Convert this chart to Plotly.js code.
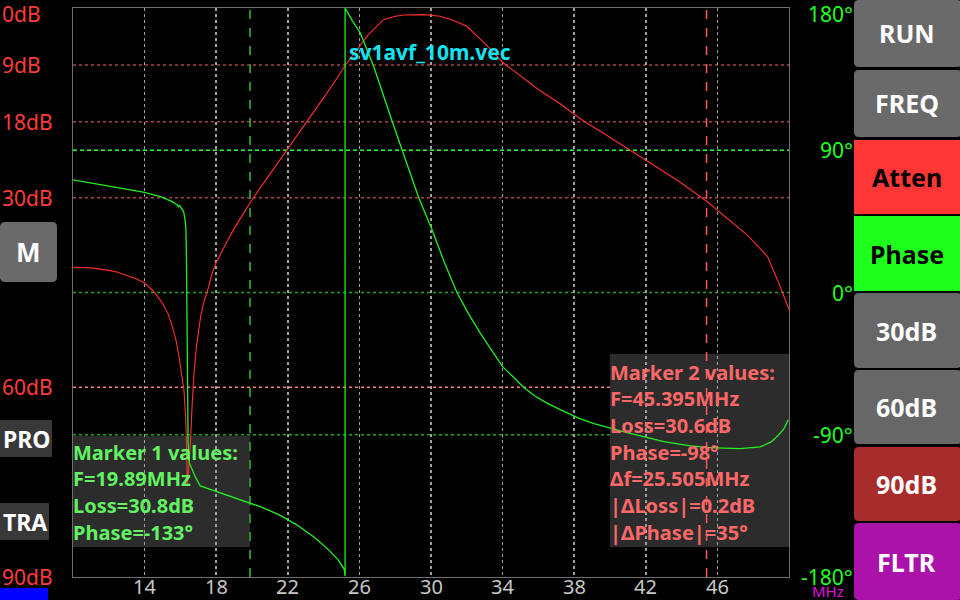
<!DOCTYPE html>
<html>
<head>
<meta charset="utf-8">
<script src="https://cdn.plot.ly/plotly-3.0.1.min.js"></script>
<style>html,body{margin:0;padding:0;background:#000;}#chart{width:960px;height:600px;}</style>
</head>
<body>
<div id="chart"></div>
<script>
// ---- data ----
const freqAtten = [10.0, 11.0, 12.0, 12.5, 13.0, 13.5, 14.0, 14.5, 15.0, 15.3, 15.55, 15.75, 15.92, 16.05, 16.2, 16.3, 16.36, 16.39, 16.45, 16.57, 16.66, 16.76, 16.9, 17.13, 17.3, 17.49, 17.78, 17.99, 18.5, 19.0, 19.5, 19.89, 20.5, 21.0, 21.96, 23.25, 24.3, 25.3, 26.0, 26.5, 27.35, 28.0, 28.5, 29.6, 30.5, 31.2, 32.0, 33.0, 34.05, 35.0, 36.0, 37.2, 38.53, 39.46, 40.95, 42.0, 43.74, 45.42, 46.54, 47.7, 48.8, 49.5, 50.0];
const attenDb = [41.0, 41.1, 41.5, 41.8, 42.3, 42.8, 43.5, 44.8, 46.7, 48.3, 50.4, 52.5, 55.1, 57.3, 60.5, 65.0, 70.0, 75.7, 73.0, 68.3, 62.5, 57.8, 53.5, 48.8, 46.6, 45.0, 41.9, 40.3, 37.5, 34.9, 32.6, 30.8, 28.3, 26.3, 22.4, 17.4, 13.0, 8.7, 6.0, 4.2, 1.85, 1.3, 1.1, 1.05, 1.3, 1.9, 2.9, 5.6, 8.7, 10.8, 12.9, 15.1, 17.9, 19.5, 22.2, 24.0, 27.2, 30.6, 33.2, 36.0, 39.3, 44.0, 47.7];

const freqPhase = [10.0, 11.0, 12.0, 13.0, 14.0, 14.88, 15.25, 15.55, 15.81, 15.9, 15.95, 16.1, 16.18, 16.26, 16.31, 16.34, 16.37, 16.4, 16.43, 16.5, 16.65, 16.85, 17.11, 18.04, 19.0, 19.89, 20.46, 21.5, 22.5, 23.5, 24.3, 24.8, 25.15, 25.2, 25.2, 25.6, 26.05, 26.8, 27.45, 27.8, 28.38, 29.31, 30.06, 30.75, 31.45, 32.1, 32.75, 33.4, 34.0, 34.6, 35.17, 35.8, 36.48, 37.25, 38.24, 39.1, 40.03, 41.0, 42.0, 43.0, 44.5, 45.395, 46.35, 47.3, 48.4, 49.0, 49.33, 49.7, 49.96];
const phaseDeg = [71.3, 69.3, 67.3, 65.3, 63.3, 60.7, 59.2, 57.5, 55.5, 54.3, 55.0, 52.5, 51.2, 46.0, 39.7, 20.0, -20.0, -60.0, -95.0, -108.0, -112.3, -117.0, -122.4, -126.0, -129.5, -133.0, -135.5, -140.5, -147.0, -155.0, -163.0, -169.0, -175.0, -179.5, 180.0, 172.0, 164.2, 143.0, 122.0, 109.3, 90.3, 60.1, 39.7, 19.0, 0.0, -13.5, -25.7, -37.0, -46.9, -53.5, -59.9, -65.5, -70.0, -74.3, -79.5, -83.0, -85.9, -88.8, -91.5, -94.3, -97.0, -98.0, -98.5, -98.8, -97.7, -94.5, -91.2, -86.5, -80.6];

const xTicks = [14, 18, 22, 26, 30, 34, 38, 42, 46];
const dbTicks = [0, 9, 18, 30, 60, 90];
const dbLabels = ['0dB', '9dB', '18dB', '30dB', '60dB', '90dB'];
const dbGrid = [9, 18, 30, 60];
const degTicks = [180, 90, 0, -90, -180];
const degLabels = ['180°', '90°', '0°', '-90°', '-180°'];
const phaseGrid = [90, 0, -90];
const markerFreqs = [19.89, 45.395];
const marker1Lines = ['Marker 1 values:', 'F=19.89MHz', 'Loss=30.8dB', 'Phase=-133°'];
const marker2Lines = ['Marker 2 values:', 'F=45.395MHz', 'Loss=30.6dB', 'Phase=-98°', 'Δf=25.505MHz', '|ΔLoss|=0.2dB', '|ΔPhase|=35°'];
const fileName = 'sv1avf_10m.vec';
const rightButtons = ['RUN', 'FREQ', 'Atten', 'Phase', '30dB', '60dB', '90dB', 'FLTR'];
const leftLabels = ['M', 'PRO', 'TRA'];

// ---- layout helpers (pixel -> paper) ----
const W = 960, H = 600;
const L = 73, R = 171, T = 8, B = 23;
const PW = W - L - R, PH = H - T - B;
const px = v => (v - L) / PW;
const py = v => (H - B - v) / PH;
const FONT = 'Noto Sans, DejaVu Sans, sans-serif';

function rectShape(x0, y0, x1, y1, fill, layer) {
  return {type: 'rect', xref: 'paper', yref: 'paper', x0: px(x0), x1: px(x1), y0: py(y1), y1: py(y0),
          fillcolor: fill, line: {width: 0}, layer: layer || 'above'};
}
function roundRect(x0, y0, x1, y1, r, fill) {
  const p = [
    ['M', x0 + r, y0], ['L', x1 - r, y0], ['Q', x1, y0, x1, y0 + r], ['L', x1, y1 - r], ['Q', x1, y1, x1 - r, y1],
    ['L', x0 + r, y1], ['Q', x0, y1, x0, y1 - r], ['L', x0, y0 + r], ['Q', x0, y0, x0 + r, y0]
  ];
  let s = '';
  p.forEach(seg => {
    s += seg[0] + ' ';
    for (let i = 1; i < seg.length; i += 2) s += px(seg[i]).toFixed(5) + ',' + py(seg[i + 1]).toFixed(5) + ' ';
  });
  return {type: 'path', xref: 'paper', yref: 'paper', path: s + 'Z', fillcolor: fill, line: {width: 0}, layer: 'above'};
}

const shapes = [];
const annotations = [];

// horizontal grid lines
dbGrid.forEach(v => shapes.push({type: 'line', xref: 'paper', yref: 'y', x0: 0, x1: 1, y0: v, y1: v,
  line: {color: v === 60 ? '#ff7a7a' : '#a84444', width: 1.5, dash: 'dot'}, layer: 'below'}));
phaseGrid.forEach(v => shapes.push({type: 'line', xref: 'paper', yref: 'y2', x0: 0, x1: 1, y0: v, y1: v,
  line: {color: v === 90 ? '#33ff33' : '#23a523', width: 1.5, dash: v === 90 ? '4px,3px' : 'dot'}, layer: 'below'}));

// marker boxes
shapes.push(rectShape(73, 436, 250, 547, '#2c2c2c', 'below'));
shapes.push(rectShape(610, 354, 789, 547, '#2c2c2c', 'below'));

// marker vertical lines
shapes.push({type: 'line', xref: 'x', yref: 'paper', x0: markerFreqs[0], x1: markerFreqs[0], y0: 0, y1: 1,
  line: {color: '#2f8f2f', width: 2, dash: 'dash'}, layer: 'below'});
shapes.push({type: 'line', xref: 'x', yref: 'paper', x0: markerFreqs[1], x1: markerFreqs[1], y0: 0, y1: 1,
  line: {color: '#ff5a5a', width: 1.5, dash: 'dash'}, layer: 'below'});

// x tick labels
xTicks.forEach(v => annotations.push({xref: 'x', yref: 'paper', x: v, y: py(586), text: String(v),
  xanchor: 'center', yanchor: 'middle', showarrow: false, font: {family: FONT, size: 20, color: '#c8c8c8'}}));

// left dB labels (top one anchored to the top edge so it stays inside the picture)
dbTicks.forEach((v, i) => annotations.push({xref: 'paper', yref: i === 0 ? 'paper' : 'y', x: px(0),
  y: i === 0 ? py(-2) : v, text: dbLabels[i],
  xanchor: 'left', yanchor: i === 0 ? 'top' : 'middle', showarrow: false, font: {family: FONT, size: 21, color: '#ff3b3b'}}));
// right degree labels
degTicks.forEach((v, i) => annotations.push({xref: 'paper', yref: i === 0 ? 'paper' : 'y2', x: px(855),
  y: i === 0 ? py(-2) : v, text: degLabels[i],
  xanchor: 'right', yanchor: i === 0 ? 'top' : 'middle', showarrow: false, font: {family: FONT, size: 21, color: '#22ff22'}}));

// marker texts (one line each, 26.7px spacing as in the reference)
marker1Lines.forEach((t, i) => annotations.push({xref: 'paper', yref: 'paper', x: px(71), y: py(452 + i * 26.7),
  text: '<b>' + t + '</b>', xanchor: 'left', yanchor: 'middle', align: 'left', showarrow: false,
  font: {family: FONT, size: 20, color: '#62f262'}}));
marker2Lines.forEach((t, i) => annotations.push({xref: 'paper', yref: 'paper', x: px(608), y: py(372 + i * 26.7),
  text: '<b>' + t + '</b>', xanchor: 'left', yanchor: 'middle', align: 'left', showarrow: false,
  font: {family: FONT, size: 20, color: '#ff6868'}}));

// file name
annotations.push({xref: 'paper', yref: 'paper', x: px(430), y: py(52), text: '<b>' + fileName + '</b>',
  xanchor: 'center', yanchor: 'middle', showarrow: false, font: {family: FONT, size: 21, color: '#12e4f2'}});

// right buttons
const btnBounds = [[0, 67], [70, 137], [140, 214], [216, 291], [293, 368], [370, 444], [447, 521], [523, 600]];
const btnFill = ['#6a6a6a', '#6a6a6a', '#ff3636', '#1eff1e', '#676767', '#676767', '#a82c2c', '#aa12aa'];
const btnText = ['#ffffff', '#ffffff', '#000000', '#000000', '#ffffff', '#ffffff', '#ffffff', '#ffffff'];
rightButtons.forEach((b, i) => {
  const [y0, y1] = btnBounds[i];
  const solid = (b === 'Atten' || b === 'Phase');
  shapes.push(solid ? rectShape(854, y0, 960, y1, btnFill[i]) : roundRect(854, y0, 962, y1, 5, btnFill[i]));
  annotations.push({xref: 'paper', yref: 'paper', x: px(907), y: py((y0 + y1) / 2), text: '<b>' + b + '</b>',
    xanchor: 'center', yanchor: 'middle', showarrow: false, font: {family: FONT, size: 25, color: btnText[i]}});
});

// left buttons
shapes.push(roundRect(0, 222, 57, 282, 5, '#6a6a6a'));
annotations.push({xref: 'paper', yref: 'paper', x: px(28.5), y: py(252), text: '<b>' + leftLabels[0] + '</b>',
  xanchor: 'center', yanchor: 'middle', showarrow: false, font: {family: FONT, size: 26, color: '#ffffff'}});
shapes.push(rectShape(0, 420, 52, 457, '#383838'));
annotations.push({xref: 'paper', yref: 'paper', x: px(1), y: py(439), text: '<b>' + leftLabels[1] + '</b>',
  xanchor: 'left', yanchor: 'middle', showarrow: false, font: {family: FONT, size: 23, color: '#ffffff'}});
shapes.push(rectShape(0, 503, 49, 540, '#383838'));
annotations.push({xref: 'paper', yref: 'paper', x: px(1), y: py(522), text: '<b>' + leftLabels[2] + '</b>',
  xanchor: 'left', yanchor: 'middle', showarrow: false, font: {family: FONT, size: 23, color: '#ffffff'}});
shapes.push(rectShape(0, 588, 48, 600, '#0000ff'));

// MHz unit
annotations.push({xref: 'paper', yref: 'paper', x: px(828), y: py(591), text: 'MHz',
  xanchor: 'center', yanchor: 'middle', showarrow: false, font: {family: FONT, size: 15, color: '#e010e0'}});

const traces = [
  {x: freqAtten, y: attenDb, type: 'scatter', mode: 'lines', yaxis: 'y',
   line: {color: '#ff3030', width: 1.1}, hoverinfo: 'skip'},
  {x: freqPhase, y: phaseDeg, type: 'scatter', mode: 'lines', yaxis: 'y2',
   line: {color: '#22f022', width: 1.3}, hoverinfo: 'skip'}
];

const layout = {
  width: W, height: H,
  margin: {l: L, r: R, t: T, b: B, pad: 0},
  paper_bgcolor: '#000000', plot_bgcolor: '#000000',
  showlegend: false,
  font: {family: FONT, color: '#cccccc'},
  xaxis: {range: [10, 50], tickmode: 'array', tickvals: xTicks, showticklabels: false,
          showgrid: true, gridcolor: '#a0a0a0', griddash: 'dot', gridwidth: 1.5,
          zeroline: false, showline: true, mirror: true, linecolor: '#707070', linewidth: 1,
          ticks: '', fixedrange: true},
  yaxis: {range: [90, 0], showgrid: false, zeroline: false, showticklabels: false,
          showline: true, mirror: true, linecolor: '#707070', linewidth: 1, ticks: '', fixedrange: true},
  yaxis2: {range: [-180, 180], overlaying: 'y', side: 'right', showgrid: false, zeroline: false,
           showticklabels: false, showline: false, ticks: '', fixedrange: true},
  shapes: shapes,
  annotations: annotations
};

Plotly.newPlot('chart', traces, layout, {staticPlot: true, displayModeBar: false});
</script>
</body>
</html>
